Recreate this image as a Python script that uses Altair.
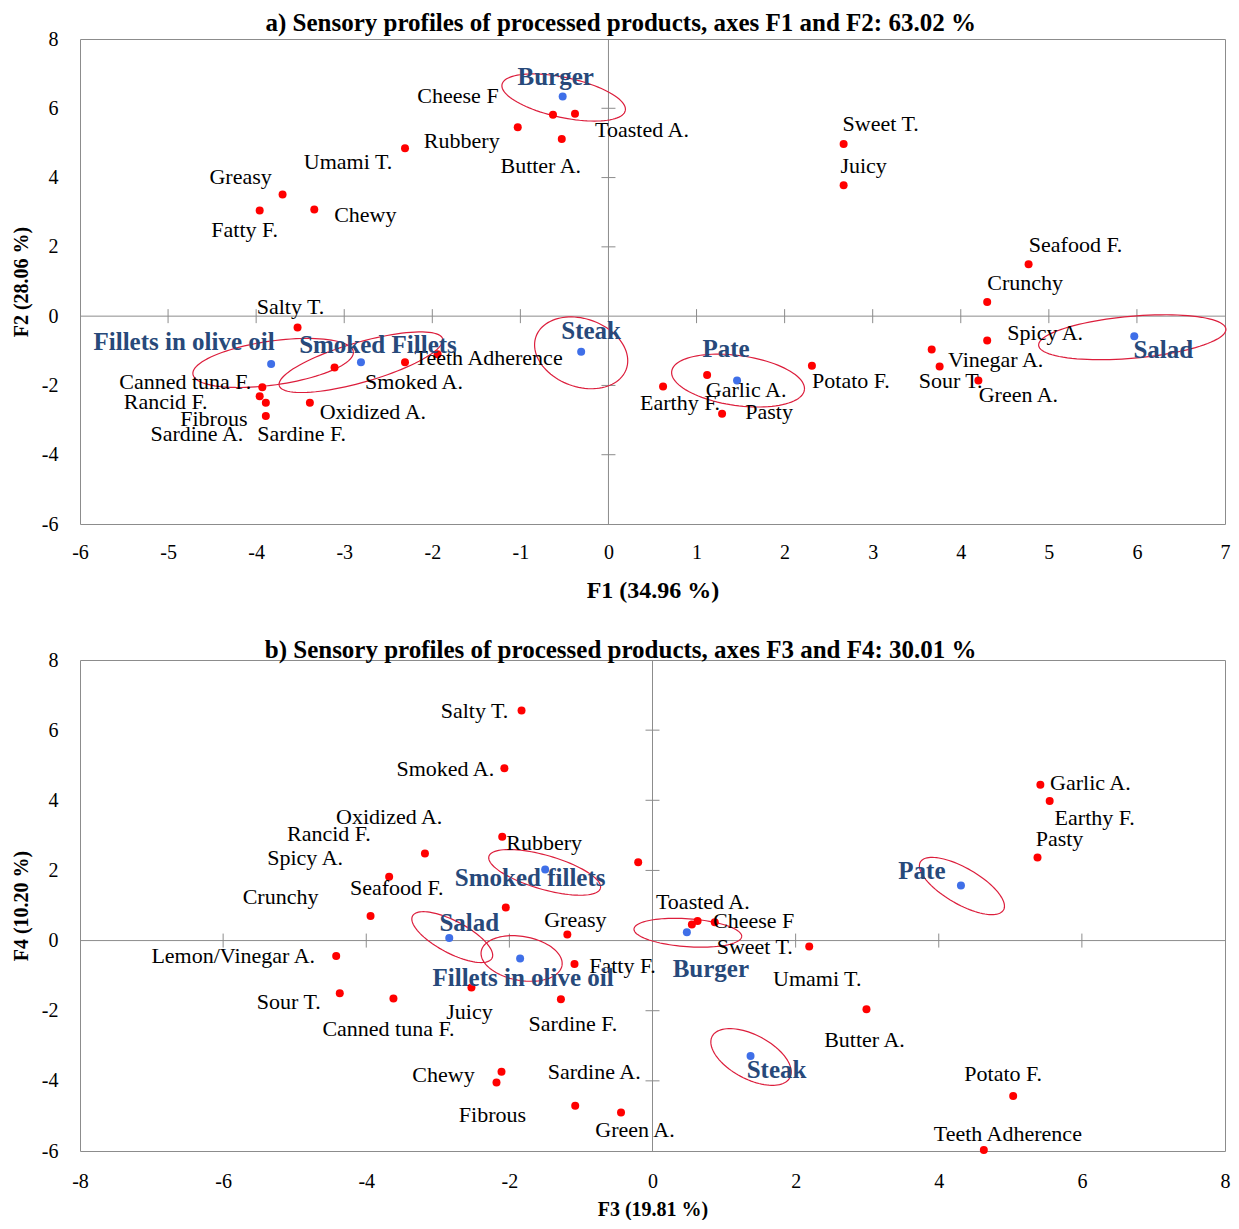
import altair as alt
import numpy as np
import pandas as pd

FONT = "Liberation Serif"
RED = "#FF0000"
BLUE = "#3F6FE8"
NAVY = "#27497A"
ELL = "#DC1E3C"
GRAY = "#8C8C8C"

# ---------------- Panel a: F1 x F2 ----------------
attr_a = ["Cheese F", "Toasted A.", "Rubbery", "Butter A.", "Umami  T.", "Greasy",
          "Fatty F.", "Chewy", "Sweet  T.", "Juicy", "Seafood F.", "Crunchy",
          "Spicy A.", "Vinegar  A.", "Sour T.", "Green A.", "Potato F.", "Garlic  A.",
          "Earthy F.", "Pasty", "Salty T.", "Teeth Adherence", "Smoked A.",
          "Canned tuna F.", "Rancid F.", "Fibrous", "Sardine A.", "Sardine F.", "Oxidized A."]
attr_a_f1 = [-0.63, -0.38, -1.03, -0.53, -2.31, -3.70, -3.96, -3.34, 2.67, 2.67, 4.77, 4.30,
             4.30, 3.67, 3.76, 4.20, 2.31, 1.12, 0.62, 1.29, -3.53, -1.94, -2.31,
             -3.93, -3.96, -3.89, -3.89, -3.11, -3.39]
attr_a_f2 = [5.81, 5.84, 5.45, 5.11, 4.85, 3.51, 3.05, 3.08, 4.97, 3.78, 1.50, 0.41,
             -0.70, -0.96, -1.45, -1.86, -1.43, -1.70, -2.03, -2.82, -0.33, -1.10, -1.33,
             -2.05, -2.31, -2.50, -2.88, -1.48, -2.50]
# label offsets (pixels) from each point
attr_a_dx = [-95, 67, -56, -21, -57, -42, -15, 51, 37, 20, 47, 38, 58, 64, 11, 40, 39, 39,
             17, 47, -7, 51, 9, -77, -94, -52, -69, -33, 63]
attr_a_dy = [-19, 16, 14, 27, 14, -18, 20, 6, -20, -19, -19, -19, -7, 11, 15, 14, 15, 15,
             17, -2, -21, 4, 20, -5, 6, 16, 18, 67, 9]

prod_a = ["Burger", "Fillets in olive oil", "Smoked Fillets", "Steak", "Pate", "Salad"]
prod_a_f1 = [-0.52, -3.83, -2.81, -0.31, 1.46, 5.97]
prod_a_f2 = [6.34, -1.38, -1.33, -1.03, -1.86, -0.58]
prod_a_dx = [-7, -87, 17, 10, -11, 29]
prod_a_dy = [-20, -22, -17, -21, -32, 14]
# ellipse style: centre offset (px), semi-axes (px), tilt (deg)
ell_a = [(1, 1, 63, 20, 12), (2, -1, 81, 22, -8), (0, 0, 85, 20, -16),
         (0, 1, 48, 34, 20), (1, 0, 67, 25, 8), (-2, 1, 94, 21, -5)]

# ---------------- Panel b: F3 x F4 ----------------
attr_b = ["Salty  T.", "Smoked A.", "Rubbery", "Rancid F.", "Spicy A.", "Crunchy",
          "Seafood F.", "Oxidized  A.", "Greasy", "Lemon/Vinegar  A.", "Sour T.",
          "Canned tuna F.", "Juicy", "Fatty F.", "Sardine F.", "Chewy", "Fibrous",
          "Sardine A.", "Green A.", "Toasted A.", "Cheese F", "Sweet  T.", "Umami  T.",
          "Butter  A.", "Garlic  A.", "Earthy  F.", "Pasty", "Potato F.", "Teeth Adherence"]
attr_b_f3 = [-1.83, -2.07, -2.10, -3.18, -3.68, -3.94, -2.05, -0.20, -1.19, -4.42, -4.37,
             -3.62, -2.53, -1.09, -1.28, -2.11, -2.18, -1.08, -0.44, 0.55, 0.63, 0.87,
             2.19, 2.99, 5.42, 5.55, 5.38, 5.04, 4.63]
attr_b_f4 = [6.56, 4.91, 2.96, 2.48, 1.82, 0.70, 0.94, 2.23, 0.17, -0.44, -1.50, -1.65,
             -1.34, -0.67, -1.67, -3.74, -4.05, -4.71, -4.90, 0.46, 0.56, 0.52, -0.17,
             -1.96, 4.44, 3.98, 2.37, -4.43, -5.97]
attr_b_dx = [-47, -59, 42, -96, -84, -90, -109, -249, 8, -103, -51, -5, -2, 48, 12, -58,
             -4, 19, 14, 11, 56, 40, 8, -2, 50, 45, 22, -10, 24]
attr_b_dy = [0, 1, 6, -20, -19, -19, -20, -45, -15, 0, 9, 31, 24, 2, 25, 3, 32, -34, 18,
             -22, 0, 25, 32, 31, -2, 17, -18, -22, -16]

prod_b = ["Smoked fillets", "Salad", "Fillets in olive oil", "Burger", "Pate", "Steak"]
prod_b_f3 = [-1.50, -2.84, -1.85, 0.48, 4.31, 1.37]
prod_b_f4 = [2.03, 0.07, -0.51, 0.24, 1.57, -3.29]
prod_b_dx = [-15, 20, 3, 24, -39, 26]
prod_b_dy = [9, -15, 20, 37, -15, 14]
ell_b = [(-0.5, 3, 58, 17, 16), (3, -1, 45, 16, 28), (1.5, 0, 41, 22, 10),
         (1, 0.6, 54, 14, 4), (1, 0.5, 48, 18, 30), (0.5, 1, 44, 22, 28)]


def panel(attr, ax_, ay_, adx, ady, prod, px_, py_, pdx, pdy, ell,
          xdom, ydom, xticks, yticks, W, H, title, toff,
          xtitle, xtfs, xlpad, xtpad, ytitle, ytfs):
    ux = (xdom[1] - xdom[0]) / W
    uy = (ydom[1] - ydom[0]) / H
    xs = alt.Scale(domain=xdom, nice=False, zero=False)
    ys = alt.Scale(domain=ydom, nice=False, zero=False)
    xaxis = alt.Axis(values=list(range(xdom[0], xdom[1] + 1, xticks)),
                     grid=False, domain=False, ticks=False, labelFont=FONT,
                     labelFontSize=20, labelColor="black", labelPadding=xlpad,
                     labelExpr="toString(datum.value)", labelFlush=False,
                     title=xtitle, titleFont=FONT, titleFontSize=xtfs,
                     titleFontWeight="bold", titleColor="black", titlePadding=xtpad)
    yaxis = alt.Axis(values=list(range(ydom[0], ydom[1] + 1, yticks)),
                     grid=False, domain=False, ticks=False, labelFont=FONT,
                     labelFontSize=20, labelColor="black", labelPadding=22,
                     labelExpr="toString(datum.value)", labelFlush=False,
                     title=ytitle, titleFont=FONT, titleFontSize=ytfs,
                     titleFontWeight="bold", titleColor="black", titlePadding=10)
    X = alt.X("x:Q", scale=xs, axis=xaxis)
    Y = alt.Y("y:Q", scale=ys, axis=yaxis)

    vline = alt.Chart(pd.DataFrame({"x": [0]})).mark_rule(color=GRAY, strokeWidth=1).encode(x=X)
    hline = alt.Chart(pd.DataFrame({"y": [0]})).mark_rule(color=GRAY, strokeWidth=1).encode(y=Y)

    xt = [v for v in range(xdom[0] + xticks, xdom[1], xticks) if v != 0]
    yt = [v for v in range(ydom[0] + yticks, ydom[1], yticks) if v != 0]
    xtick_df = pd.DataFrame({"x": xt, "y": [-7 * uy] * len(xt), "y2": [7 * uy] * len(xt)})
    ytick_df = pd.DataFrame({"y": yt, "x": [-7 * ux] * len(yt), "x2": [7 * ux] * len(yt)})
    xtk = alt.Chart(xtick_df).mark_rule(color=GRAY, strokeWidth=1).encode(x=X, y=Y, y2="y2")
    ytk = alt.Chart(ytick_df).mark_rule(color=GRAY, strokeWidth=1).encode(y=Y, x=X, x2="x2")

    # ellipses drawn around the product points
    t = np.linspace(0, 2 * np.pi, 97)
    rows = []
    for name, cx, cy, e in zip(prod, px_, py_, ell):
        ox, oy, a, b, ang = e
        th = np.deg2rad(ang)
        ex = a * np.cos(t) * np.cos(th) - b * np.sin(t) * np.sin(th)
        ey = a * np.cos(t) * np.sin(th) + b * np.sin(t) * np.cos(th)
        for i in range(len(t)):
            rows.append({"name": name, "i": i,
                         "x": cx + (ox + ex[i]) * ux,
                         "y": cy - (oy + ey[i]) * uy})
    ell_df = pd.DataFrame(rows)
    ellipses = alt.Chart(ell_df).mark_line(color=ELL, strokeWidth=1.2, clip=False).encode(
        x=X, y=Y, detail="name:N", order="i:Q")

    attr_df = pd.DataFrame({"x": ax_, "y": ay_, "name": attr})
    prod_df = pd.DataFrame({"x": px_, "y": py_, "name": prod})
    apts = alt.Chart(attr_df).mark_circle(size=64, color=RED, opacity=1).encode(x=X, y=Y)
    ppts = alt.Chart(prod_df).mark_circle(size=64, color=BLUE, opacity=1).encode(x=X, y=Y)

    alab_df = pd.DataFrame({"x": [v + d * ux for v, d in zip(ax_, adx)],
                            "y": [v - d * uy for v, d in zip(ay_, ady)],
                            "name": attr})
    plab_df = pd.DataFrame({"x": [v + d * ux for v, d in zip(px_, pdx)],
                            "y": [v - d * uy for v, d in zip(py_, pdy)],
                            "name": prod})
    alab = alt.Chart(alab_df).mark_text(font=FONT, fontSize=22, color="black",
                                        align="center", baseline="middle").encode(
        x=X, y=Y, text="name:N")
    plab = alt.Chart(plab_df).mark_text(font=FONT, fontSize=25, fontWeight="bold",
                                        color=NAVY, align="center", baseline="middle").encode(
        x=X, y=Y, text="name:N")

    return alt.layer(vline, hline, xtk, ytk, ellipses, apts, ppts, alab, plab).properties(
        width=W, height=H,
        title=alt.TitleParams(title, font=FONT, fontSize=25, fontWeight="bold",
                              color="black", anchor="middle", frame="bounds", offset=toff))


pa = panel(attr_a, attr_a_f1, attr_a_f2, attr_a_dx, attr_a_dy,
           prod_a, prod_a_f1, prod_a_f2, prod_a_dx, prod_a_dy, ell_a,
           (-6, 7), (-6, 8), 1, 2, 1145, 485,
           "a) Sensory profiles of processed products, axes F1 and F2: 63.02 %", -7,
           "F1 (34.96 %)", 24, 18, 16, "F2 (28.06 %)", 20)
pb = panel(attr_b, attr_b_f3, attr_b_f4, attr_b_dx, attr_b_dy,
           prod_b, prod_b_f3, prod_b_f4, prod_b_dx, prod_b_dy, ell_b,
           (-8, 8), (-6, 8), 2, 2, 1145, 491,
           "b) Sensory profiles of processed products, axes F3 and F4: 30.01 %", -13,
           "F3 (19.81 %)", 20, 20, 8, "F4 (10.20 %)", 20)

chart = alt.vconcat(pa, pb, spacing=34).properties(
    padding={"left": 2, "top": 2, "right": 0, "bottom": 0}
).configure_view(stroke=GRAY, strokeWidth=1)

chart.save("out.html", embed_options={"renderer": "svg", "actions": False})
